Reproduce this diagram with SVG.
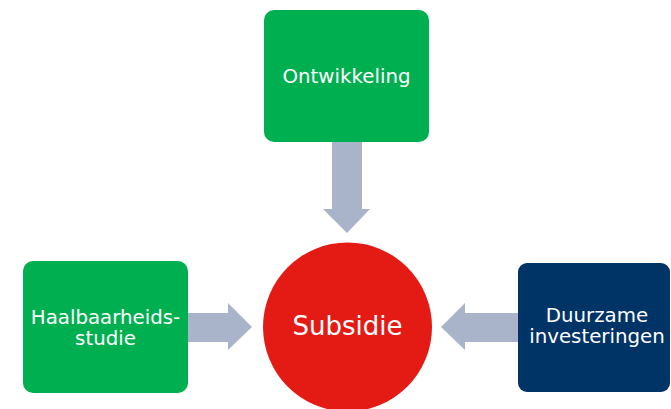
<svg xmlns="http://www.w3.org/2000/svg" width="671" height="409" viewBox="0 0 671 409">
<style>
.box{stroke:none}
.green{fill:#00B050}
.navy{fill:#003366}
.lbl{fill:#ffffff;font-family:"DejaVu Sans",Verdana,sans-serif;font-size:19.8px;text-anchor:middle}
.big{font-size:26px}
.arrow{fill:#A9B4CB}
</style>
<rect width="671" height="409" fill="#ffffff"/>
<g id="connectors">
<polygon class="arrow" points="332,142 362,142 362,209 370,209 347,233 323,209 332,209"/>
<polygon class="arrow" points="188,313 228,313 228,303 252,327 228,350 228,342 188,342"/>
<polygon class="arrow" points="518,313 465,313 465,303 441,327 465,350 465,342 518,342"/>
</g>
<g id="ontwikkeling">
<rect class="box green" x="264" y="10" width="165" height="132" rx="10"/>
<text class="lbl" x="346.5" y="83">Ontwikkeling</text>
</g>
<g id="haalbaarheidsstudie">
<rect class="box green" x="23" y="261" width="165" height="132" rx="10"/>
<text class="lbl" x="105.5" y="324">Haalbaarheids-</text>
<text class="lbl" x="105.5" y="345">studie</text>
</g>
<g id="subsidie">
<circle cx="347.5" cy="327" r="84.5" fill="#E31B14"/>
<text class="lbl big" x="347.5" y="335">Subsidie</text>
</g>
<g id="duurzame">
<rect class="box navy" x="518" y="263" width="152" height="129" rx="9"/>
<text class="lbl" x="597" y="322">Duurzame</text>
<text class="lbl" x="597" y="343">investeringen</text>
</g>
</svg>
